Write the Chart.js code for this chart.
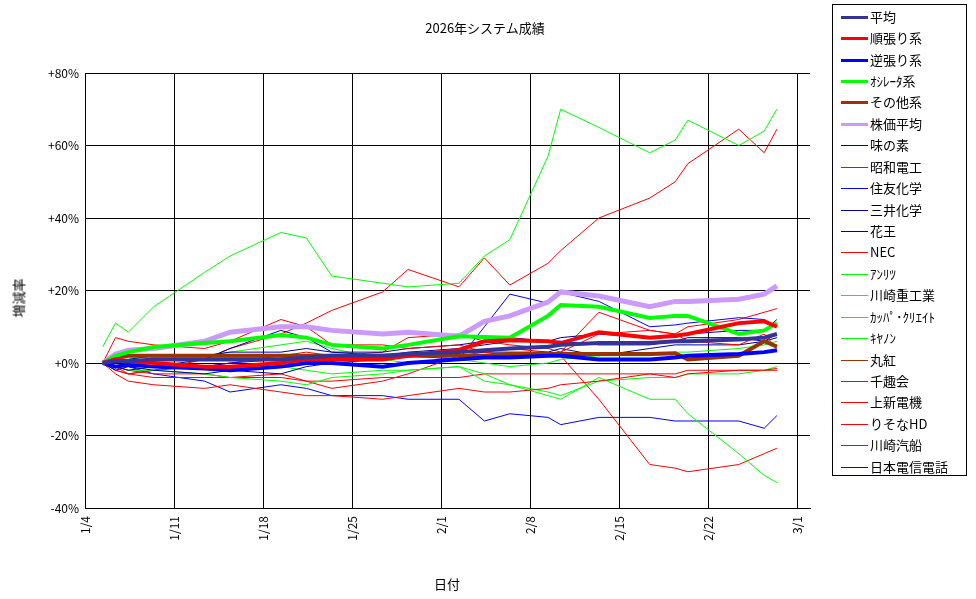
<!DOCTYPE html>
<html><head><meta charset="utf-8">
<script src="https://cdn.jsdelivr.net/npm/chart.js@4"></script>
<style>
body{margin:0;background:#fff;font-family:"Noto Sans CJK JP",sans-serif;}
#wrap{position:relative;width:976px;height:599px;}
canvas{position:absolute;left:0;top:0;}
.t{position:absolute;font-size:13px;color:#000;white-space:nowrap;}
#legend{position:absolute;left:832px;top:4px;width:135px;height:472px;border:1px solid #000;box-sizing:border-box;}
.row{position:absolute;left:0;height:20px;font-size:13px;line-height:20px;}
.row span.l{position:absolute;left:8px;top:10px;width:27px;}
.row span.x{position:absolute;left:37px;top:0;white-space:nowrap;}
</style></head><body>
<div id="wrap">
<canvas id="c" width="976" height="599"></canvas>
<div class="t" style="left:485px;top:18px;transform:translateX(-50%)">2026年システム成績</div>
<div class="t" style="left:18px;top:298px;transform:translate(-50%,-50%) rotate(-90deg)">増減率</div>
<div class="t" style="left:447px;top:574px;transform:translateX(-50%)">日付</div>
<div id="legend"></div>
</div>
<script>
const dates=['1/5','1/6','1/7','1/9','1/13','1/15','1/19','1/21','1/23','1/27','1/29','2/2','2/4','2/6','2/9','2/10','2/13','2/17','2/19','2/20','2/24','2/26','2/27'];
const xTickLabels=['1/4','1/11','1/18','1/25','2/1','2/8','2/15','2/22','3/1'];
const yTicks=[-40,-20,0,20,40,60,80];

const heikin=[0,0.5,0.5,1,1,1,1,1.5,2,2,2.5,3,3.5,4,4.5,5,5.5,5.5,6,6,6.5,7,8];
const junbari=[0,1,0.5,0,-1,-1,0,1,1,1,2,3.6,6,6.3,6,5.5,8.5,7,7.5,8,11,11.5,10];
const gyakubari=[0,-1,-0.5,-1,-1.5,-2,-1,0,0,-1,0,1,1.5,1.5,2,2,1,1,1.5,2,2.5,3,3.5];
const oscillator=[0,2,3,4.4,5.5,6,7.7,7,5,4,5,7.4,7.2,7,13,16,15.5,12.4,13,13,8,9,11];
const sonota=[0,1.5,2,2,2,2,2,2,2,2,2,2,2,2.5,2.5,2.5,2.5,2.5,2.7,1,2,6,4.5];
const kabuka=[0,2.5,3.5,4,6,8.5,10,10,9,8,8.5,7.4,11.5,13,16.8,19.6,18.5,15.5,17,17,17.6,19,21.3];
const ajinomoto=[0,1,1,2,2,3,3,4,3,2,3,4,5,6,6,7,8,7,7,8,9,9,12];
const showadenko=[0,7,6,5,4,6,12,10,5,5,4,5,3,2,2,3,8,9,8,6,5,8,4];
const sumitomo=[0,-1,0,0,-1,0,1,0,1,1,2,1,10,19,16.5,19.5,17,10,10.5,11,12.5,12,10];
const mitsui=[0,-1,-2,-1,1,4,9,7,3,3,4,5,6,7,6,6,5,5,6,7,7,6,8];
const kao=[0,-2,-1,-2,-3,-2,-3,-1,0,1,2,3,3,3,3,4,2,4,5,5,5,6,7];
const nec=[0,-3,-5,-6,-7,-6,-8,-9,-9,-10,-9,-7,-8,-8,-7,-6,-5,-3,-4,-3,-2,-2,-1.5];
const anritsu=[0,-1,-2,-2,-3,-4,-5,-6,-4,-3,-2,-1,-5,-6,-8,-9,-5,-4,-4,-3,-3,-2,-1];
const kawajuko=[0,1,1,2,2,3,5,6,4,1,0,1,0,-1,0,1,2,2,3,3,4,5,6];
const kappa=[4.5,11,8.5,15.5,25,29.5,36,34.5,24,22,21,22,29.5,34,57,70,65,58,61.5,67,60,64,70];
const canon=[0,1,0,-1,-1,-2,-1,-2,-3,-2,-2,-1,-3,-6,-9,-10,-4,-10,-10,-14,-25,-31,-33];
const marubeni=sonota.slice();
const senshukai=[0,-1,-3,-2,1,4,8,11,14.5,19.6,25.8,21,29,21.5,27.5,31,40,45.5,50,55,64.5,58,64.5];
const joshin=[0,-2,-3,-4,-4,-4,-4,-5,-5,-4,-4,-4,-3,-3,-3,-3,-3,-3,-3,-2,-2,-2,-2];
const resona=[0,-2,-3,-2,-1,0,2,3,2,3,7,8,6,5,4,3,14,9,8,10,12,14,15];
const kawakisen=[0,-1,-2,-3,-3,-4,-3,-5,-7,-5,-3,2,3,4,3,2,-10,-28,-29,-30,-28,-25,-23.5];
const ntt=[0,-1,-1,-3,-5,-8,-6,-7,-9,-9,-10,-10,-16,-14,-15,-17,-15,-15,-16,-16,-16,-18,-14.5];

const series=[
 ['平均',heikin,'#333399',4],['順張り系',junbari,'#ff0000',4],['逆張り系',gyakubari,'#0000ff',4],
 ['ｵｼﾚｰﾀ系',oscillator,'#00ff00',4],['その他系',sonota,'#993300',4],['株価平均',kabuka,'#cc99ff',5],
 ['味の素',ajinomoto,'#000099',1],['昭和電工',showadenko,'#ff0000',1],['住友化学',sumitomo,'#0000ff',1],
 ['三井化学',mitsui,'#000099',1],['花王',kao,'#000099',1],['NEC',nec,'#ff0000',1],
 ['ｱﾝﾘﾂ',anritsu,'#00ff00',1],['川崎重工業',kawajuko,'#00ff00',1],['ｶｯﾊﾟ･ｸﾘｴｲﾄ',kappa,'#00ff00',1],
 ['ｷﾔﾉﾝ',canon,'#00ff00',1],['丸紅',marubeni,'#993300',1],['千趣会',senshukai,'#ff0000',1],
 ['上新電機',joshin,'#ff0000',1],['りそなHD',resona,'#ff0000',1],['川崎汽船',kawakisen,'#ff0000',1],
 ['日本電信電話',ntt,'#0000ff',1]];

function dayOf(s){const [m,d]=s.split('/').map(Number);return (Date.UTC(2026,m-1,d)-Date.UTC(2026,0,4))/864e5;}
const xs=dates.map(d=>dayOf(d)+0.4);
const datasets=series.map(([label,vals,color,w])=>({label,data:vals.map((v,i)=>({x:xs[i],y:v})),borderColor:color,backgroundColor:color,borderWidth:w,pointRadius:0,tension:0,fill:false}));

new Chart(document.getElementById('c'),{type:'line',data:{datasets},
options:{responsive:false,animation:false,events:[],
 layout:{padding:{left:0,top:73,right:166,bottom:0}},
 plugins:{legend:{display:false},title:{display:false},tooltip:{enabled:false}},
 scales:{
  x:{type:'linear',min:0,max:57,
   afterFit(s){s.height=91;},
   afterBuildTicks(s){s.ticks=xTickLabels.map(l=>({value:dayOf(l)}));},
   ticks:{autoSkip:false,minRotation:90,maxRotation:90,color:'#000',font:{family:'"Noto Sans CJK JP"',size:12},padding:8,
     callback:(v)=>{const i=xTickLabels.findIndex(l=>dayOf(l)===v);return i>=0?xTickLabels[i]:'';}},
   grid:{color:'#000',lineWidth:1,drawTicks:false},border:{color:'#000',width:1}},
  y:{min:-40,max:80,
   afterFit(s){s.width=85;},
   afterBuildTicks(s){s.ticks=yTicks.map(v=>({value:v}));},
   ticks:{color:'#000',font:{family:'"Noto Sans CJK JP"',size:12},padding:6,callback:v=>(v>=0?'+':'')+v+'%'},
   grid:{color:'#000',lineWidth:1,drawTicks:false},border:{color:'#000',width:1}}
 }}});

const lg=document.getElementById('legend');
series.forEach(([label,,color,w],i)=>{
 const r=document.createElement('div');r.className='row';r.style.top=(1.7+i*21.43)+'px';
 r.innerHTML=`<span class="l" style="border-top:${w>1?3:1}px solid ${color};margin-top:${w>1?-1:0}px"></span><span class="x">${label}</span>`;
 lg.appendChild(r);
});
</script></body></html>
